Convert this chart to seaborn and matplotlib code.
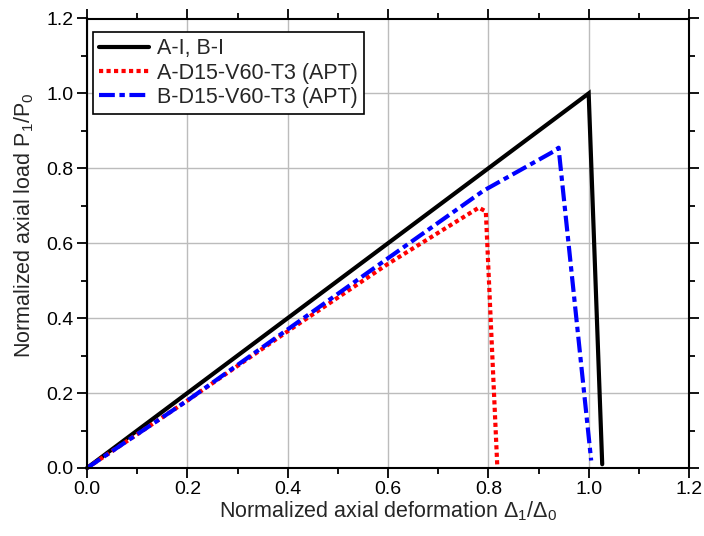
import numpy as np
import pandas as pd
import matplotlib
matplotlib.use("Agg")
import matplotlib.pyplot as plt
import seaborn as sns
from matplotlib.ticker import MultipleLocator, FormatStrFormatter
from matplotlib.lines import Line2D

# Data
ai_x = [0.0, 1.0, 1.027]
ai_y = [0.0, 1.0, 0.01]

ad_x = [0.0, 0.2, 0.4, 0.6, 0.781, 0.795, 0.818]
ad_y = [0.0, 0.18, 0.365, 0.545, 0.695, 0.685, 0.0]

bd_x = [0.0, 0.2, 0.4, 0.6, 0.79, 0.93, 0.94, 1.005]
bd_y = [0.0, 0.18, 0.37, 0.56, 0.74, 0.845, 0.855, 0.02]

labels = ["A-I, B-I", "A-D15-V60-T3 (APT)", "B-D15-V60-T3 (APT)"]

frames = []
for lab, xs, ys in zip(labels, [ai_x, ad_x, bd_x], [ai_y, ad_y, bd_y]):
    frames.append(pd.DataFrame({"x": xs, "y": ys, "series": lab}))
df = pd.concat(frames, ignore_index=True)

sns.set_theme(style="white")
plt.rcParams['font.family'] = ['Liberation Sans', 'DejaVu Sans']
plt.rcParams['mathtext.fontset'] = 'custom'
plt.rcParams['mathtext.rm'] = 'Liberation Sans'
plt.rcParams['mathtext.it'] = 'Liberation Sans'

fig = plt.figure(figsize=(7.04, 5.36), dpi=100)
L, R, T, B = 87, 689, 18.5, 468
ax = fig.add_axes([L/704, 1-B/536, (R-L)/704, (B-T)/536])

palette = {labels[0]: "black", labels[1]: "#ff0000", labels[2]: "#0000ff"}
sns.lineplot(data=df, x="x", y="y", hue="series", palette=palette, sort=False,
             estimator=None, ax=ax, legend=False)

lines = ax.get_lines()
styles = [
    dict(lw=3.0, ls="-"),
    dict(lw=3.0, ls=(0, (1.0, 0.8))),
    dict(lw=3.0, ls=(0, (3.8, 1.1, 1.3, 1.1))),
]
for ln, st in zip(lines, styles):
    ln.set_linewidth(st["lw"])
    ln.set_linestyle(st["ls"])
    ln.set_dash_capstyle("butt")
    ln.set_solid_joinstyle("miter")
    ln.set_clip_on(False)

ax.set_xlim(0, 1.2)
ax.set_ylim(0, 1.2)
ax.xaxis.set_major_locator(MultipleLocator(0.2))
ax.xaxis.set_minor_locator(MultipleLocator(0.1))
ax.yaxis.set_major_locator(MultipleLocator(0.2))
ax.yaxis.set_minor_locator(MultipleLocator(0.1))
ax.xaxis.set_major_formatter(FormatStrFormatter("%.1f"))
ax.yaxis.set_major_formatter(FormatStrFormatter("%.1f"))

ax.grid(True, which="major", color="#bcbcbc", linewidth=1.0)
ax.set_axisbelow(True)
for s in ax.spines.values():
    s.set_visible(True)
    s.set_color("black")
    s.set_linewidth(1.5)

ax.tick_params(which="both", direction="out", bottom=True, left=True, top=True, right=True,
               labeltop=False, labelright=False, colors="black", width=1.3)
ax.tick_params(which="major", length=7, labelsize=14, pad=2.5)
ax.tick_params(which="minor", length=4.5)

ax.set_xlabel(r"Normalized axial deformation $\Delta_1/\Delta_0$", fontsize=15.5, labelpad=1)
ax.set_ylabel(r"Normalized axial load P$_1$/P$_0$", fontsize=15.5)
ax.yaxis.set_label_coords(-0.085, 0.54)

handles = [Line2D([], [], color=palette[l], lw=st["lw"], ls=st["ls"], dash_capstyle="butt")
           for l, st in zip(labels, styles)]
leg = ax.legend(handles, labels, loc="upper left", bbox_to_anchor=(0.01, 0.97), fontsize=15.5,
                frameon=True, fancybox=False, shadow=False, handlelength=2.3,
                handletextpad=0.35, borderpad=0.3, labelspacing=0.15, borderaxespad=0.0)
leg.get_frame().set_edgecolor("black")
leg.get_frame().set_linewidth(1.2)
leg.get_frame().set_alpha(1)

fig.savefig("out.png", dpi=100)
